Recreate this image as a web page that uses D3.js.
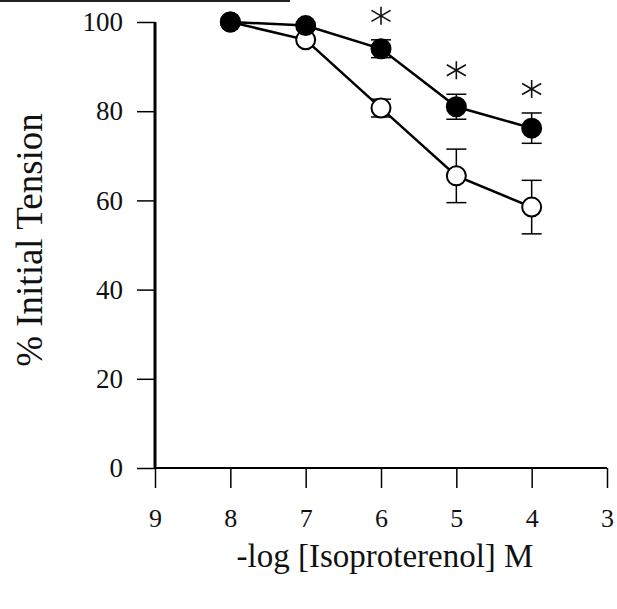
<!DOCTYPE html>
<meta charset="utf-8" />
<style>
  body { margin: 0; background: #fff; }
  text { font-family: "Liberation Serif", "Times New Roman", serif; fill: #111; }
</style>
<body>
<div id="chart"></div>
<script src="https://d3js.org/d3.v7.min.js"></script>
<script>
// data
var xTicks = [9, 8, 7, 6, 5, 4, 3];
var yTicks = [0, 20, 40, 60, 80, 100];
var logConc = [8, 7, 6, 5, 4];
var filledMean = [100, 99.2, 94, 81, 76.2];
var filledSem = [0, 0.8, 2, 2.8, 3.4];
var openMean = [100, 96, 80.7, 65.5, 58.5];
var openSem = [0, 0.8, 2, 6, 6];
var signif = [false, false, true, true, true];

var width = 617, height = 609;

var svg = d3.select("#chart").append("svg")
  .attr("width", width)
  .attr("height", height);

// scan edge at the top
svg.append("line")
  .attr("x1", 0).attr("x2", 290).attr("y1", 1).attr("y2", 1)
  .attr("stroke", "#222").attr("stroke-width", 2);

var x = d3.scaleLinear().domain([9, 3]).range([155, 607]);
var y = d3.scaleLinear().domain([0, 100]).range([468, 22]);

// y axis
var yAxis = svg.append("g")
  .attr("transform", "translate(155,0)")
  .call(d3.axisLeft(y).tickValues(yTicks).tickFormat(d3.format("d"))
    .tickSize(18).tickPadding(14));
yAxis.attr("font-size", null).attr("font-family", null);
yAxis.select(".domain").attr("stroke", "#000").attr("stroke-width", 3)
  .attr("d", "M0," + y(100) + "V" + y(0));
yAxis.selectAll(".tick line").attr("stroke", "#000").attr("stroke-width", 1.5);
yAxis.selectAll(".tick text").style("font-size", "27px");

// x axis
var xAxis = svg.append("g")
  .attr("transform", "translate(0,468)")
  .call(d3.axisBottom(x).tickValues(xTicks).tickFormat(d3.format("d"))
    .tickSize(20).tickPadding(21));
xAxis.attr("font-size", null).attr("font-family", null);
xAxis.select(".domain").attr("stroke", "#000").attr("stroke-width", 2)
  .attr("d", "M" + x(9) + ",0H" + x(3));
xAxis.selectAll(".tick line").attr("stroke", "#000").attr("stroke-width", 1.5);
xAxis.selectAll(".tick text").style("font-size", "26px");

// axis titles
svg.append("text")
  .attr("transform", "translate(42,240) rotate(-90)")
  .attr("text-anchor", "middle")
  .style("font-size", "37px")
  .text("% Initial Tension");

svg.append("text")
  .attr("x", 385)
  .attr("y", 567)
  .attr("text-anchor", "middle")
  .style("font-size", "33px")
  .text("-log [Isoproterenol] M");

var line = d3.line()
  .x(function(d) { return x(d[0]); })
  .y(function(d) { return y(d[1]); });

function drawSeries(means, sems, fill) {
  var pts = logConc.map(function(c, i) { return [c, means[i], sems[i]]; });
  var g = svg.append("g");
  g.append("path")
    .datum(pts)
    .attr("fill", "none")
    .attr("stroke", "#000")
    .attr("stroke-width", 2.5)
    .attr("d", line);
  var bars = g.selectAll(".err")
    .data(pts.filter(function(d) { return d[2] > 1; }))
    .enter().append("g");
  bars.append("line")
    .attr("x1", function(d) { return x(d[0]); })
    .attr("x2", function(d) { return x(d[0]); })
    .attr("y1", function(d) { return y(d[1] + d[2]); })
    .attr("y2", function(d) { return y(d[1] - d[2]); })
    .attr("stroke", "#000").attr("stroke-width", 1.5);
  [1, -1].forEach(function(s) {
    bars.append("line")
      .attr("x1", function(d) { return x(d[0]) - 10; })
      .attr("x2", function(d) { return x(d[0]) + 10; })
      .attr("y1", function(d) { return y(d[1] + s * d[2]); })
      .attr("y2", function(d) { return y(d[1] + s * d[2]); })
      .attr("stroke", "#000").attr("stroke-width", 1.5);
  });
  g.selectAll("circle")
    .data(pts)
    .enter().append("circle")
    .attr("cx", function(d) { return x(d[0]); })
    .attr("cy", function(d) { return y(d[1]); })
    .attr("r", 9.5)
    .attr("fill", fill)
    .attr("stroke", "#000")
    .attr("stroke-width", 2);
}

drawSeries(openMean, openSem, "#fff");
drawSeries(filledMean, filledSem, "#000");

// significance stars, drawn as six-armed asterisks
var stars = svg.selectAll(".star")
  .data(logConc.filter(function(c, i) { return signif[i]; }))
  .enter().append("g")
  .attr("class", "star")
  .attr("transform", function(c) {
    var i = logConc.indexOf(c);
    return "translate(" + x(c) + "," + (y(filledMean[i] + filledSem[i]) - 24) + ")";
  });
[90, 30, -30].forEach(function(a) {
  var r = a === 90 ? 9 : 11;
  var dx = r * Math.cos(a * Math.PI / 180), dy = r * Math.sin(a * Math.PI / 180);
  stars.append("line")
    .attr("x1", -dx).attr("y1", -dy).attr("x2", dx).attr("y2", dy)
    .attr("stroke", "#111").attr("stroke-width", 1.6);
});
</script>
</body>
